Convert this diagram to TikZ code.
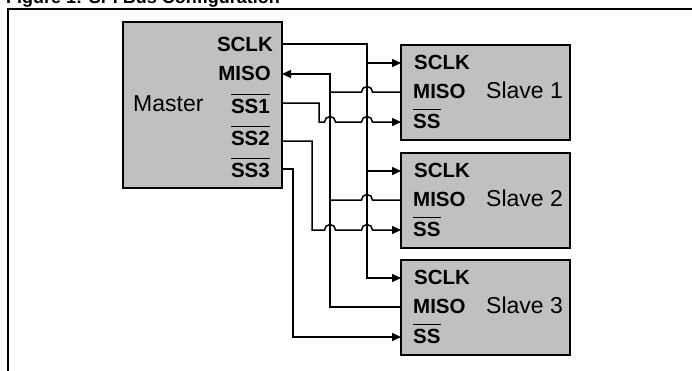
\documentclass[tikz,border=0pt]{standalone}
\usepackage{fontspec}
\setmainfont{Liberation Sans}
\usetikzlibrary{arrows.meta,calc}
\definecolor{boxgray}{HTML}{C0C0C0}
\newcommand{\myovl}[1]{\setbox0\hbox{#1}\rlap{\rule[\dimexpr\ht0+3.5pt\relax]{\wd0}{1.5pt}}\box0}
\newcommand{\hopR}[2]{-- ($(#1 |- #2)+(-5.5,0)$) arc[start angle=180,end angle=0,radius=5.5pt]}
\newcommand{\hopL}[2]{-- ($(#1 |- #2)+(5.5,0)$) arc[start angle=0,end angle=180,radius=5.5pt]}
\begin{document}
\begin{tikzpicture}[x=1pt,y=-1pt,
  box/.style={draw=black,line width=1.5pt,fill=boxgray,inner sep=0,outer sep=0,anchor=north west},
  pinlbl/.style={font=\bfseries\fontsize{20.5}{24}\selectfont,inner sep=0},
  namelbl/.style={font=\fontsize{23}{27}\selectfont,inner sep=0,anchor=base west},
  wire/.style={line width=1.5pt},
  arr/.style={wire,-{Triangle[length=9pt,width=8pt]}}]
\useasboundingbox (0,0) rectangle (692,370);
\clip (0,0) rectangle (692,370);
% title and frame
\node[anchor=base west,inner sep=0,font=\bfseries\fontsize{18}{20}\selectfont] (title) at (6,3.5) {Figure 1: SPI Bus Configuration};
\draw[line width=2pt] (8,372) -- (8,9) -- (694,9);
% boxes
\node[box,minimum width=159pt,minimum height=166pt] (master) at (123,22) {};
\node[box,minimum width=169pt,minimum height=95pt] (slave1) at (401,45) {};
\node[box,minimum width=169pt,minimum height=95pt] (slave2) at (401,153) {};
\node[box,minimum width=169pt,minimum height=95pt] (slave3) at (401,260) {};
% pins
\coordinate (m-sclk) at ($(master.north east)+(0,22)$);
\coordinate (m-miso) at ($(master.north east)+(0,52)$);
\coordinate (m-ss1) at ($(master.north east)+(0,81)$);
\coordinate (m-ss2) at ($(master.north east)+(0,119)$);
\coordinate (m-ss3) at ($(master.north east)+(0,147)$);
\foreach \s in {1,2,3}{
  \coordinate (s\s-sclk) at ($(slave\s.north west)+(0,18)$);
  \coordinate (s\s-miso) at ($(slave\s.north west)+(0,47)$);
  \coordinate (s\s-ss) at ($(slave\s.north west)+(0,77)$);
}
% bus columns
\coordinate (busclk) at (367,0);
\coordinate (busmiso) at (330,0);
\coordinate (xss1) at (319,0);
\coordinate (xss2) at (312,0);
\coordinate (xss3) at (293,0);
% SCLK
\draw[arr] (m-sclk) -| (busclk |- s3-sclk) -- (s3-sclk);
\draw[arr] (busclk |- s1-sclk) -- (s1-sclk);
\draw[arr] (busclk |- s2-sclk) -- (s2-sclk);
% MISO
\draw[arr] (s3-miso) -| (busmiso |- m-miso) -- (m-miso);
\draw[wire] (s1-miso) \hopL{busclk}{s1-miso} -- (busmiso |- s1-miso);
\draw[wire] (s2-miso) \hopL{busclk}{s2-miso} -- (busmiso |- s2-miso);
% SS lines
\draw[arr] (m-ss1) -| (xss1 |- s1-ss) \hopR{busmiso}{s1-ss} \hopR{busclk}{s1-ss} -- (s1-ss);
\draw[arr] (m-ss2) -| (xss2 |- s2-ss) \hopR{busmiso}{s2-ss} \hopR{busclk}{s2-ss} -- (s2-ss);
\draw[arr] (m-ss3) -| (xss3 |- s3-ss) -- (s3-ss);
% master labels
\node[pinlbl,anchor=base east] (lm1) at (273,51) {SCLK};
\node[pinlbl,anchor=base east] (lm2) at (271,80) {MISO};
\node[pinlbl,anchor=base east] (lm3) at (270,113) {\myovl{SS1}};
\node[pinlbl,anchor=base east] (lm4) at (270,145) {\myovl{SS2}};
\node[pinlbl,anchor=base east] (lm5) at (270,177) {\myovl{SS3}};
\node[namelbl] (lmaster) at (133,111) {Master};
% slave labels
\foreach \s/\dy in {1/0,2/108,3/215}{
  \node[pinlbl,anchor=base west] (ls\s a) at (414,69+\dy) {SCLK};
  \node[pinlbl,anchor=base west] (ls\s b) at (413,98+\dy) {MISO};
  \node[pinlbl,anchor=base west] (ls\s c) at (413,128+\dy) {\myovl{SS}};
  \node[namelbl] (ls\s n) at (486,98+\dy) {Slave \s};
}
\end{tikzpicture}
\end{document}
